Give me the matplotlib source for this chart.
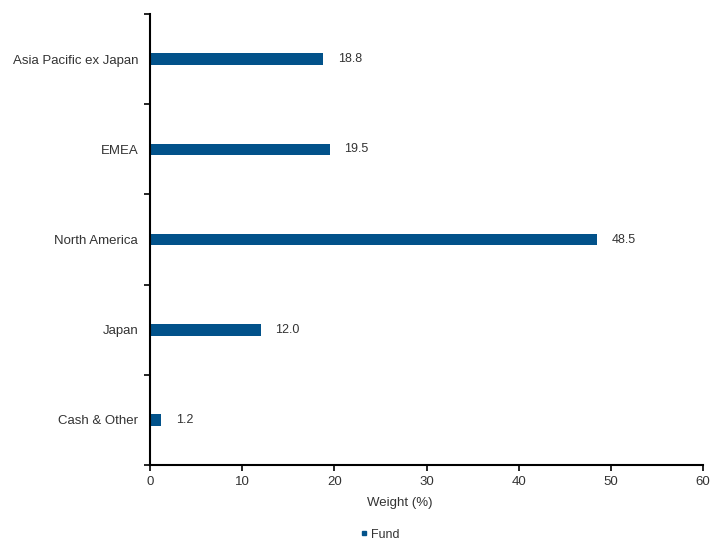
import matplotlib.pyplot as plt
import numpy as np

plt.rcParams['font.family'] = ['Liberation Sans', 'DejaVu Sans']

regions = ['Cash & Other', 'Japan', 'North America', 'EMEA',
           'Asia Pacific ex Japan']
fund = [1.2, 12.0, 48.5, 19.5, 18.8]
xticks = [0, 10, 20, 30, 40, 50, 60]

bar_color = '#02528A'
text_color = '#333333'
narrow = ['Liberation Sans Narrow', 'Liberation Sans']

fig = plt.figure(figsize=(7.1, 5.4), dpi=100)
ax = fig.add_axes([0.2113, 0.1389, 0.779, 0.835])

pos = np.arange(len(regions))
ax.barh(pos, fund, height=0.13, color=bar_color, label='Fund')

for y, v in zip(pos, fund):
    ax.text(v + 1.6, y, f'{v:.1f}', va='center', ha='left',
            fontsize=9, color=text_color, family=narrow)

ax.set_xlim(0, 60)
ax.set_ylim(-0.5, len(regions) - 0.5)
ax.set_xticks(xticks)
ax.set_xticklabels([str(t) for t in xticks], fontsize=9.5, color=text_color)

# categories labelled at centers, ticks drawn on boundaries
ax.set_yticks(pos)
ax.set_yticklabels(regions, fontsize=9.5, color=text_color)
ax.tick_params(axis='y', length=0, pad=8.5)
ax.set_yticks(np.arange(-0.5, len(regions)), minor=True)
ax.tick_params(axis='y', which='minor', length=4, width=1.2, color='black')
ax.tick_params(axis='x', length=4, width=1.2, color='black', pad=4)

for s in ['top', 'right']:
    ax.spines[s].set_visible(False)
for s in ['left', 'bottom']:
    ax.spines[s].set_linewidth(1.5)
    ax.spines[s].set_color('black')

ax.set_xlabel('Weight (%)', fontsize=9.5, color=text_color, labelpad=6)
ax.xaxis.set_label_coords(0.452, -0.072)

leg = fig.legend(handles=[plt.Line2D([], [], marker='s', ls='none',
                                     color=bar_color, markersize=2.5)],
                 labels=['Fund'], loc='center', bbox_to_anchor=(0.535, 0.01),
                 frameon=False, handlelength=0.6, handletextpad=0.3,
                 prop={'family': narrow, 'size': 9})
for t in leg.get_texts():
    t.set_color(text_color)

plt.savefig('out.png', dpi=100)
plt.close(fig)
